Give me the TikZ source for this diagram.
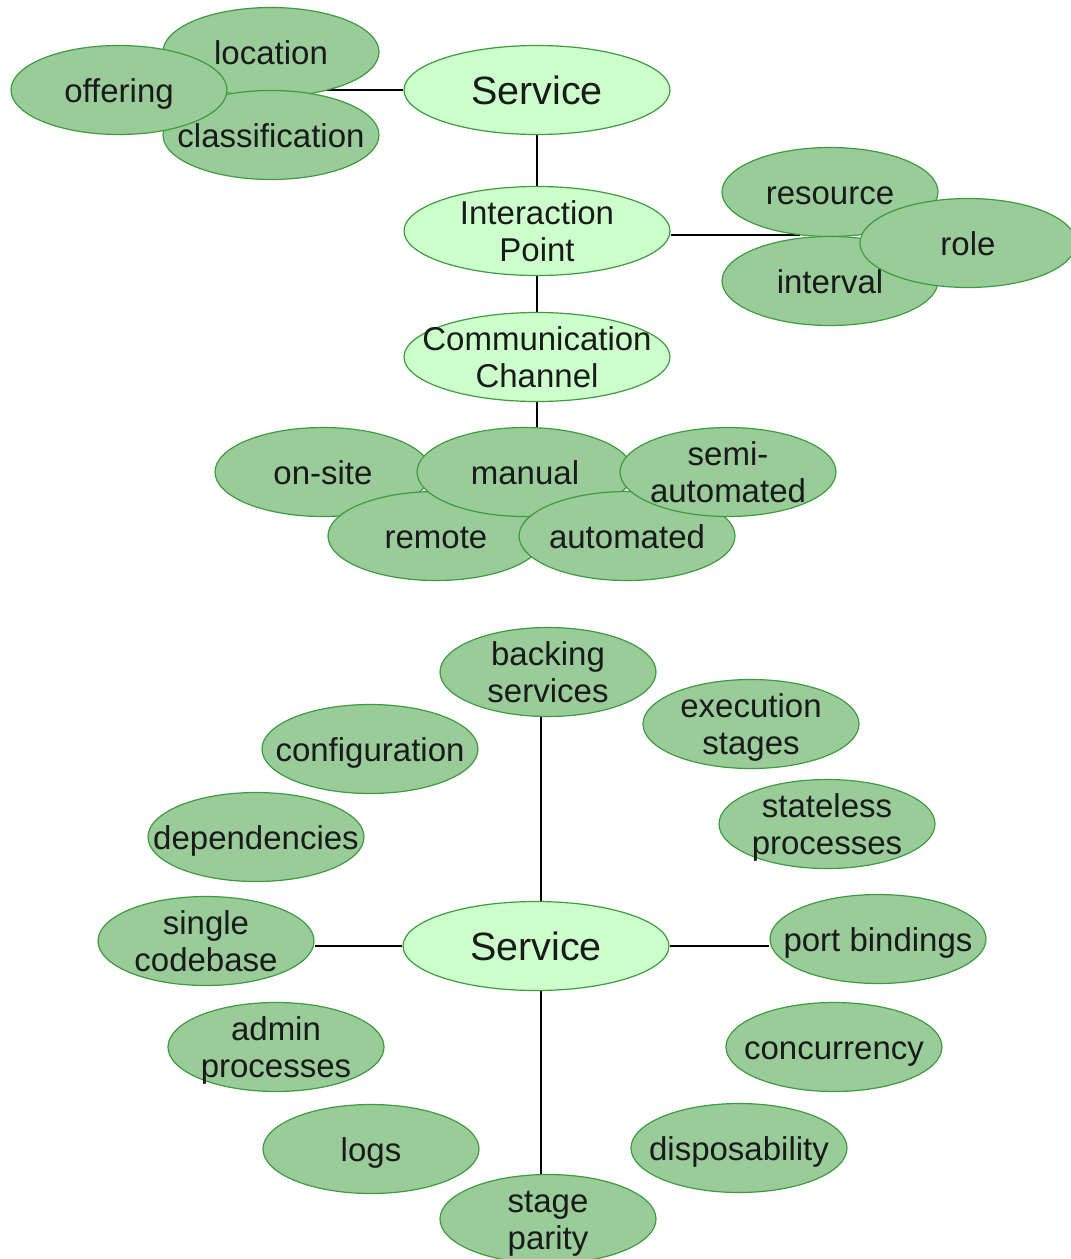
\documentclass[tikz,border=0pt]{standalone}
\usepackage{fontspec}
\setmainfont{Liberation Sans}
\usetikzlibrary{shapes.geometric,backgrounds}
\definecolor{leafgreen}{HTML}{99CC99}
\definecolor{hubgreen}{HTML}{CCFFCC}
\definecolor{rimgreen}{HTML}{3E9B3E}
\definecolor{inkblack}{HTML}{1A1A1A}
\tikzset{
  blob/.style={ellipse, draw=rimgreen, line width=1.2pt, inner sep=0pt,
    minimum width=216pt, minimum height=89pt},
  leaf/.style={blob, fill=leafgreen},
  hub/.style={blob, fill=hubgreen, minimum width=266pt},
  % captions get a fixed box so every baseline sits at the same height
  caption/.style={inner sep=0pt, align=center, text=inkblack,
    font=\fontsize{33}{37}\selectfont, text height=24pt, text depth=0pt},
  twolines/.style={caption, text height=61pt},
  bigcaption/.style={caption, font=\fontsize{39.5}{44}\selectfont,
    text height=28pt, text depth=0pt},
  link/.style={draw=black, line width=1.4pt}
}
% an ellipse of fixed size with its text laid over it (text may overhang the rim)
\newcommand\bubble[5][caption]{%
  \node[#2] (#3) at (#4) {};
  \node[#1] (#3-text) at (#3.center) {#5};}
\begin{document}
\begin{tikzpicture}[x=1pt,y=-1pt]
\useasboundingbox (0,0) rectangle (1071,1259);

% ---- upper hierarchy ----
\bubble{leaf}{loc}{271,52}{location}
\bubble{leaf}{clas}{271,135}{classification}
\bubble{leaf}{offr}{119,90}{offering}
\bubble[bigcaption]{hub}{svca}{537,90}{Service}
\bubble[twolines]{hub}{ip}{537,231}{Interaction\\Point}
\bubble{leaf}{res}{830,192}{resource}
\bubble{leaf}{intv}{830,281}{interval}
\bubble{leaf}{role}{968,243}{role}
\bubble[twolines]{hub}{cc}{537,357}{Communication\\Channel}
\bubble{leaf}{onsite}{323,472}{on-site}
\bubble{leaf}{remote}{436,536}{remote}
\bubble{leaf}{manual}{525,472}{manual}
\bubble{leaf}{auto}{627,536}{automated}
\bubble[twolines]{leaf}{semi}{728,472}{semi-\\automated}

\coordinate (leftjoin)  at (300,90);
\coordinate (rightjoin) at (800,235);

% ---- twelve-factor ring ----
\bubble[bigcaption]{hub}{svcb}{536,946}{Service}
\bubble[twolines]{leaf}{backing}{548,672}{backing\\services}
\bubble[twolines]{leaf}{exec}{751,724}{execution\\stages}
\bubble{leaf}{config}{370,749}{configuration}
\bubble{leaf}{deps}{256,837}{dependencies}
\bubble[twolines]{leaf}{stateless}{827,824}{stateless\\processes}
\bubble[twolines]{leaf}{codebase}{206,941}{single\\codebase}
\bubble{leaf}{port}{878,939}{port bindings}
\bubble[twolines]{leaf}{admin}{276,1047}{admin\\processes}
\bubble{leaf}{conc}{834,1047}{concurrency}
\bubble{leaf}{logs}{371,1149}{logs}
\bubble{leaf}{disp}{739,1148}{disposability}
\bubble[twolines]{leaf}{parity}{548,1219}{stage\\parity}

\begin{pgfonlayer}{background}
  \draw[link] (svca.west) -- (leftjoin);
  \draw[link] (svca) -- (ip);
  \draw[link] (ip.east |- rightjoin) -- (rightjoin);
  \draw[link] (ip) -- (cc);
  \draw[link] (cc.south) -- (cc.south |- manual.north);
  \draw[link] ([xshift=-7pt]backing.south) -- ([xshift=5pt]svcb.north);
  \draw[link] ([xshift=5pt]svcb.south) -- ([xshift=-7pt]parity.north);
  \draw[link] (codebase.east |- svcb) -- (svcb.west);
  \draw[link] (svcb.east) -- (port.west |- svcb);
\end{pgfonlayer}
\end{tikzpicture}
\end{document}
